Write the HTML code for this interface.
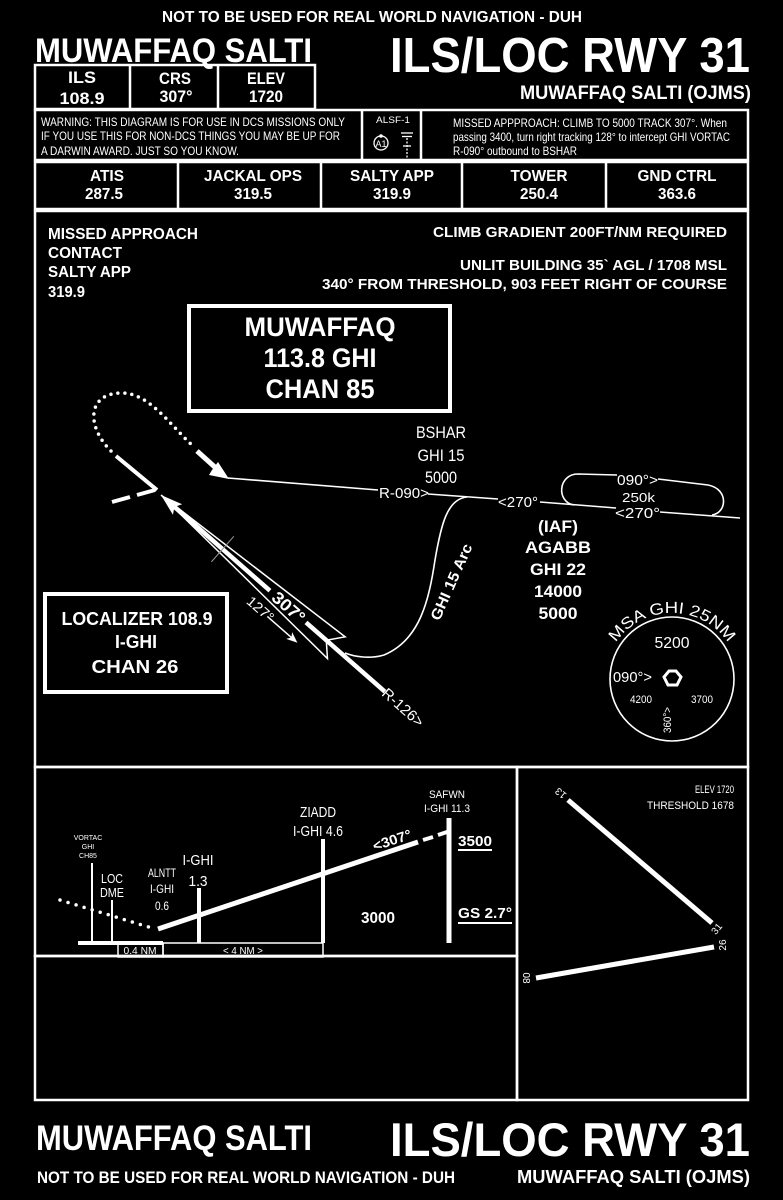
<!DOCTYPE html>
<html><head><meta charset="utf-8"><style>
html,body{margin:0;padding:0;background:#000;}
svg{display:block;}
text{font-family:"Liberation Sans",Arial,sans-serif;fill:#fff;}
.b{font-weight:bold;}
</style></head><body>
<svg width="783" height="1200" viewBox="0 0 783 1200" xmlns="http://www.w3.org/2000/svg">
<rect width="783" height="1200" fill="#000"/>

<!-- HEADER -->
<text x="372" y="22" class="b" font-size="16" text-anchor="middle" textLength="420" lengthAdjust="spacingAndGlyphs">NOT TO BE USED FOR REAL WORLD NAVIGATION - DUH</text>
<text x="35" y="62" class="b" font-size="34" textLength="277" lengthAdjust="spacingAndGlyphs">MUWAFFAQ SALTI</text>
<text x="390" y="72" class="b" font-size="49" textLength="360" lengthAdjust="spacingAndGlyphs">ILS/LOC RWY 31</text>
<text x="520" y="99" class="b" font-size="19" textLength="231" lengthAdjust="spacingAndGlyphs">MUWAFFAQ SALTI (OJMS)</text>

<g fill="none" stroke="#fff" stroke-width="2.5">
  <rect x="35" y="65" width="280" height="44"/>
  <line x1="130" y1="65" x2="130" y2="109"/>
  <line x1="218" y1="65" x2="218" y2="109"/>
  <rect x="35" y="110" width="713" height="50"/>
  <line x1="362" y1="110" x2="362" y2="160"/>
  <line x1="421" y1="110" x2="421" y2="160"/>
  <rect x="35" y="162" width="713" height="47"/>
  <line x1="178" y1="162" x2="178" y2="209"/>
  <line x1="321" y1="162" x2="321" y2="209"/>
  <line x1="462" y1="162" x2="462" y2="209"/>
  <line x1="606" y1="162" x2="606" y2="209"/>
  <rect x="35" y="211" width="713" height="556"/>
  <rect x="35" y="767" width="482" height="189"/>
  <rect x="35" y="956" width="482" height="144"/>
  <rect x="517" y="767" width="231" height="333"/>
</g>

<g class="b" font-size="17" text-anchor="middle">
  <text x="82" y="83" textLength="28" lengthAdjust="spacingAndGlyphs">ILS</text>
  <text x="82" y="104" textLength="45" lengthAdjust="spacingAndGlyphs">108.9</text>
  <text x="175" y="84" textLength="32" lengthAdjust="spacingAndGlyphs">CRS</text>
  <text x="176" y="102" textLength="33" lengthAdjust="spacingAndGlyphs">307°</text>
  <text x="266" y="84" textLength="38" lengthAdjust="spacingAndGlyphs">ELEV</text>
  <text x="266" y="102" textLength="34" lengthAdjust="spacingAndGlyphs">1720</text>
</g>

<!-- warning row -->
<g font-size="12">
  <text x="41" y="126" textLength="304" lengthAdjust="spacingAndGlyphs">WARNING:  THIS DIAGRAM IS FOR USE IN DCS MISSIONS ONLY</text>
  <text x="41" y="140" textLength="299" lengthAdjust="spacingAndGlyphs">IF YOU USE THIS FOR NON-DCS THINGS YOU MAY BE UP FOR</text>
  <text x="41" y="155" textLength="198" lengthAdjust="spacingAndGlyphs">A DARWIN AWARD.  JUST SO YOU KNOW.</text>
  <text x="453" y="127" textLength="274" lengthAdjust="spacingAndGlyphs">MISSED APPPROACH: CLIMB TO 5000 TRACK 307°.  When</text>
  <text x="453" y="141" textLength="277" lengthAdjust="spacingAndGlyphs">passing 3400, turn right tracking 128° to intercept GHI VORTAC</text>
  <text x="453" y="155" textLength="124" lengthAdjust="spacingAndGlyphs">R-090° outbound to BSHAR</text>
</g>
<text x="393" y="123" font-size="9" text-anchor="middle" textLength="34" lengthAdjust="spacingAndGlyphs">ALSF-1</text>
<circle cx="381" cy="143" r="7" fill="none" stroke="#fff" stroke-width="1.3"/>
<circle cx="381" cy="136" r="1.8" fill="#fff"/>
<text x="381" y="147" font-size="9" text-anchor="middle">A1</text>
<g stroke="#fff" stroke-width="1.3">
  <line x1="401" y1="133" x2="413" y2="133"/>
  <line x1="402" y1="136.5" x2="412" y2="136.5"/>
  <line x1="403" y1="146" x2="411" y2="146"/>
  <line x1="407" y1="138" x2="407" y2="158" stroke-dasharray="2 1.5"/>
</g>

<!-- freq row -->
<g class="b" font-size="16" text-anchor="middle">
  <text x="107" y="181" textLength="34" lengthAdjust="spacingAndGlyphs">ATIS</text>
  <text x="104" y="199" textLength="38" lengthAdjust="spacingAndGlyphs">287.5</text>
  <text x="253" y="181" textLength="98" lengthAdjust="spacingAndGlyphs">JACKAL OPS</text>
  <text x="253" y="199" textLength="38" lengthAdjust="spacingAndGlyphs">319.5</text>
  <text x="392" y="181" textLength="84" lengthAdjust="spacingAndGlyphs">SALTY APP</text>
  <text x="392" y="199" textLength="38" lengthAdjust="spacingAndGlyphs">319.9</text>
  <text x="539" y="181" textLength="57" lengthAdjust="spacingAndGlyphs">TOWER</text>
  <text x="539" y="199" textLength="38" lengthAdjust="spacingAndGlyphs">250.4</text>
  <text x="677" y="181" textLength="79" lengthAdjust="spacingAndGlyphs">GND CTRL</text>
  <text x="677" y="199" textLength="38" lengthAdjust="spacingAndGlyphs">363.6</text>
</g>

<!-- PLAN VIEW -->
<g class="b" font-size="16">
  <text x="48" y="239" textLength="150" lengthAdjust="spacingAndGlyphs">MISSED APPROACH</text>
  <text x="48" y="258" textLength="74" lengthAdjust="spacingAndGlyphs">CONTACT</text>
  <text x="48" y="277" textLength="83" lengthAdjust="spacingAndGlyphs">SALTY APP</text>
  <text x="48" y="297" textLength="37" lengthAdjust="spacingAndGlyphs">319.9</text>
</g>
<g class="b" font-size="15" text-anchor="end">
  <text x="727" y="237" textLength="294" lengthAdjust="spacingAndGlyphs">CLIMB GRADIENT 200FT/NM REQUIRED</text>
  <text x="727" y="270" textLength="267" lengthAdjust="spacingAndGlyphs">UNLIT BUILDING 35` AGL / 1708 MSL</text>
  <text x="727" y="289" textLength="405" lengthAdjust="spacingAndGlyphs">340° FROM THRESHOLD, 903 FEET RIGHT OF COURSE</text>
</g>

<rect x="189" y="306" width="261" height="105" fill="none" stroke="#fff" stroke-width="4"/>
<g class="b" font-size="27" text-anchor="middle">
  <text x="320" y="336" textLength="151" lengthAdjust="spacingAndGlyphs">MUWAFFAQ</text>
  <text x="320" y="367" textLength="113" lengthAdjust="spacingAndGlyphs">113.8 GHI</text>
  <text x="320" y="398" textLength="109" lengthAdjust="spacingAndGlyphs">CHAN 85</text>
</g>

<rect x="45" y="594" width="182" height="98" fill="none" stroke="#fff" stroke-width="4"/>
<g class="b" font-size="18" text-anchor="middle">
  <text x="137" y="625" textLength="151" lengthAdjust="spacingAndGlyphs">LOCALIZER 108.9</text>
  <text x="136" y="648" textLength="42" lengthAdjust="spacingAndGlyphs">I-GHI</text>
  <text x="135" y="673" textLength="87" lengthAdjust="spacingAndGlyphs">CHAN 26</text>
</g>

<!-- missed approach track -->
<g stroke="#fff" fill="none">
  <line x1="116" y1="456" x2="157" y2="490" stroke-width="4"/>
  <line x1="112" y1="502" x2="130" y2="497" stroke-width="4"/>
  <line x1="137" y1="495" x2="155" y2="490" stroke-width="4"/>
  <path d="M111,451 C85,425 88,392 123,393 C150,394 170,425 193,446" stroke-width="3.5" stroke-dasharray="0 7" stroke-linecap="round"/>
  <line x1="197" y1="451" x2="217" y2="469" stroke-width="5"/>
</g>
<polygon points="229,479 209,475 212,470 218,462" fill="#fff"/>

<!-- R-090 line -->
<g stroke="#fff" stroke-width="1.6" fill="none">
  <line x1="228" y1="478" x2="378" y2="490"/>
  <line x1="428" y1="494" x2="498" y2="499"/>
  <line x1="540" y1="502" x2="616" y2="508"/>
  <line x1="660" y1="512" x2="740" y2="518"/>
  <path d="M617,475 L578,474 C558,474 556,502 574,505"/>
  <path d="M658,479 L708,485 C729,489 727,513 712,515"/>
  <path d="M467,497 C447,499 441,525 435,560 C429,600 420,640 384,655 C370,659 355,657 345,653"/>
</g>
<g font-size="15">
  <text x="379" y="498" textLength="50" lengthAdjust="spacingAndGlyphs">R-090&gt;</text>
  <text x="498" y="507" textLength="40" lengthAdjust="spacingAndGlyphs">&lt;270°</text>
  <text x="615" y="518" textLength="45" lengthAdjust="spacingAndGlyphs">&lt;270°</text>
  <text x="617" y="485" textLength="41" lengthAdjust="spacingAndGlyphs">090°&gt;</text>
  <text x="622" y="502" font-size="13" textLength="33" lengthAdjust="spacingAndGlyphs">250k</text>
</g>
<g font-size="17" text-anchor="middle">
  <text x="441" y="438" textLength="50" lengthAdjust="spacingAndGlyphs">BSHAR</text>
  <text x="441" y="461" textLength="47" lengthAdjust="spacingAndGlyphs">GHI 15</text>
  <text x="441" y="483" textLength="32" lengthAdjust="spacingAndGlyphs">5000</text>
</g>
<text x="456" y="584" class="b" font-size="15" text-anchor="middle" transform="rotate(-66 456 584)" textLength="82" lengthAdjust="spacingAndGlyphs">GHI 15 Arc</text>

<g class="b" font-size="17" text-anchor="middle">
  <text x="558" y="532" textLength="40" lengthAdjust="spacingAndGlyphs">(IAF)</text>
  <text x="558" y="553" textLength="66" lengthAdjust="spacingAndGlyphs">AGABB</text>
  <text x="558" y="575" textLength="56" lengthAdjust="spacingAndGlyphs">GHI 22</text>
  <text x="558" y="597" textLength="48" lengthAdjust="spacingAndGlyphs">14000</text>
  <text x="558" y="619" textLength="39" lengthAdjust="spacingAndGlyphs">5000</text>
</g>

<!-- MSA -->
<circle cx="672" cy="679" r="62" fill="none" stroke="#fff" stroke-width="1.6"/>
<path id="msa" d="M604,681 A68,68 0 0 1 740,681" fill="none"/>
<text font-size="16"><textPath href="#msa" startOffset="50%" text-anchor="middle" textLength="132" lengthAdjust="spacingAndGlyphs">MSA GHI 25NM</textPath></text>
<text x="672" y="648" font-size="16" text-anchor="middle" textLength="35" lengthAdjust="spacingAndGlyphs">5200</text>
<text x="613" y="682" font-size="15" textLength="39" lengthAdjust="spacingAndGlyphs">090°&gt;</text>
<text x="641" y="703" font-size="11" text-anchor="middle" textLength="22" lengthAdjust="spacingAndGlyphs">4200</text>
<text x="702" y="703" font-size="11" text-anchor="middle" textLength="22" lengthAdjust="spacingAndGlyphs">3700</text>
<text x="671" y="720" font-size="11" text-anchor="middle" transform="rotate(-90 671 720)" textLength="26" lengthAdjust="spacingAndGlyphs">360°&gt;</text>
<polygon points="664,677 669,671 676,671 681,677 677,685 668,685" fill="none" stroke="#fff" stroke-width="3"/>

<!-- approach course -->
<g transform="translate(161,495) rotate(41.3)">
  <polygon points="0,0 22,-7 18,0 22,7" fill="#fff"/>
  <line x1="18" y1="0" x2="145" y2="0" stroke="#fff" stroke-width="4.5"/>
  <line x1="193" y1="0" x2="298" y2="0" stroke="#fff" stroke-width="4.5"/>
  <polyline points="0,0 232,-15 220,0 233,13 0,0" fill="none" stroke="#fff" stroke-width="1.5"/>
  <line x1="82" y1="-17" x2="82" y2="17" stroke="#999" stroke-width="1"/>
  <text x="170" y="6" class="b" font-size="17" text-anchor="middle" textLength="38" lengthAdjust="spacingAndGlyphs">307°</text>
  <text x="150" y="25" font-size="14" text-anchor="middle" textLength="31" lengthAdjust="spacingAndGlyphs">127°</text>
  <line x1="160" y1="21" x2="194" y2="21" stroke="#fff" stroke-width="1.5"/>
  <polygon points="200,21 189,16.5 192,21 189,25.5" fill="#fff"/>
  <text x="322" y="5" font-size="15" text-anchor="middle" textLength="50" lengthAdjust="spacingAndGlyphs">R-126&gt;</text>
</g>

<!-- PROFILE -->
<g font-size="7" text-anchor="middle">
  <text x="88" y="840">VORTAC</text>
  <text x="88" y="849">GHI</text>
  <text x="88" y="858">CH85</text>
</g>
<g stroke="#fff" fill="none">
  <line x1="92" y1="863" x2="92" y2="943" stroke-width="2"/>
  <line x1="112" y1="900" x2="112" y2="943" stroke-width="2"/>
  <line x1="78" y1="943" x2="163" y2="943" stroke-width="4"/>
  <rect x="118" y="943" width="45" height="14" stroke-width="1.5"/>
  <rect x="163" y="943" width="160" height="14" stroke-width="1.5"/>
  <line x1="60" y1="900" x2="152" y2="928" stroke-width="3.5" stroke-dasharray="0 8.4" stroke-linecap="round"/>
  <line x1="158" y1="929" x2="418" y2="842" stroke-width="5"/>
  <line x1="423" y1="840" x2="433" y2="837" stroke-width="4"/>
  <line x1="438" y1="835" x2="450" y2="831" stroke-width="4"/>
  <line x1="199" y1="888" x2="199" y2="943" stroke-width="4"/>
  <line x1="323" y1="839" x2="323" y2="943" stroke-width="4"/>
  <line x1="449" y1="818" x2="449" y2="943" stroke-width="5"/>
  <line x1="458" y1="850" x2="492" y2="850" stroke-width="2"/>
  <line x1="458" y1="923" x2="512" y2="923" stroke-width="2"/>
</g>
<text x="140" y="954" font-size="10" text-anchor="middle" textLength="33" lengthAdjust="spacingAndGlyphs">0.4 NM</text>
<text x="243" y="954" font-size="10" text-anchor="middle" textLength="40" lengthAdjust="spacingAndGlyphs">&lt; 4 NM &gt;</text>
<g font-size="13" text-anchor="middle">
  <text x="112" y="883" textLength="22" lengthAdjust="spacingAndGlyphs">LOC</text>
  <text x="112" y="897" textLength="24" lengthAdjust="spacingAndGlyphs">DME</text>
</g>
<g font-size="12" text-anchor="middle">
  <text x="162" y="877" textLength="28" lengthAdjust="spacingAndGlyphs">ALNTT</text>
  <text x="162" y="893" textLength="24" lengthAdjust="spacingAndGlyphs">I-GHI</text>
  <text x="162" y="910" textLength="14" lengthAdjust="spacingAndGlyphs">0.6</text>
</g>
<g font-size="15" text-anchor="middle">
  <text x="198" y="865" textLength="31" lengthAdjust="spacingAndGlyphs">I-GHI</text>
  <text x="198" y="886" textLength="19" lengthAdjust="spacingAndGlyphs">1.3</text>
  <text x="318" y="817" textLength="36" lengthAdjust="spacingAndGlyphs">ZIADD</text>
  <text x="318" y="836" textLength="50" lengthAdjust="spacingAndGlyphs">I-GHI 4.6</text>
</g>
<g font-size="11" text-anchor="middle">
  <text x="447" y="798" textLength="36" lengthAdjust="spacingAndGlyphs">SAFWN</text>
  <text x="447" y="812" textLength="46" lengthAdjust="spacingAndGlyphs">I-GHI 11.3</text>
</g>
<text x="392" y="845" class="b" font-size="14" text-anchor="middle" transform="rotate(-18.5 392 840)" textLength="40" lengthAdjust="spacingAndGlyphs">&lt;307°</text>
<text x="458" y="846" class="b" font-size="15" textLength="34" lengthAdjust="spacingAndGlyphs">3500</text>
<text x="458" y="918" class="b" font-size="15" textLength="54" lengthAdjust="spacingAndGlyphs">GS 2.7°</text>
<text x="378" y="923" class="b" font-size="16" text-anchor="middle" textLength="34" lengthAdjust="spacingAndGlyphs">3000</text>

<!-- AIRPORT -->
<g font-size="11" text-anchor="end">
  <text x="734" y="793" textLength="39" lengthAdjust="spacingAndGlyphs">ELEV 1720</text>
  <text x="734" y="809" textLength="87" lengthAdjust="spacingAndGlyphs">THRESHOLD 1678</text>
</g>
<g stroke="#fff" stroke-width="5">
  <line x1="568" y1="800" x2="712" y2="923"/>
  <line x1="536" y1="978" x2="714" y2="947"/>
</g>
<g font-size="10" text-anchor="middle">
  <text x="561" y="796" transform="rotate(220 561 793)">13</text>
  <text x="717" y="932" transform="rotate(-50 717 929)">31</text>
  <text x="526" y="981" transform="rotate(90 526 978)">08</text>
  <text x="723" y="948" transform="rotate(-90 723 945)">26</text>
</g>

<!-- FOOTER -->
<text x="36" y="1150" class="b" font-size="35" textLength="276" lengthAdjust="spacingAndGlyphs">MUWAFFAQ SALTI</text>
<text x="390" y="1156" class="b" font-size="47" textLength="360" lengthAdjust="spacingAndGlyphs">ILS/LOC RWY 31</text>
<text x="37" y="1183" class="b" font-size="17" textLength="418" lengthAdjust="spacingAndGlyphs">NOT TO BE USED FOR REAL WORLD NAVIGATION - DUH</text>
<text x="517" y="1183" class="b" font-size="18" textLength="233" lengthAdjust="spacingAndGlyphs">MUWAFFAQ SALTI (OJMS)</text>
</svg>
</body></html>
